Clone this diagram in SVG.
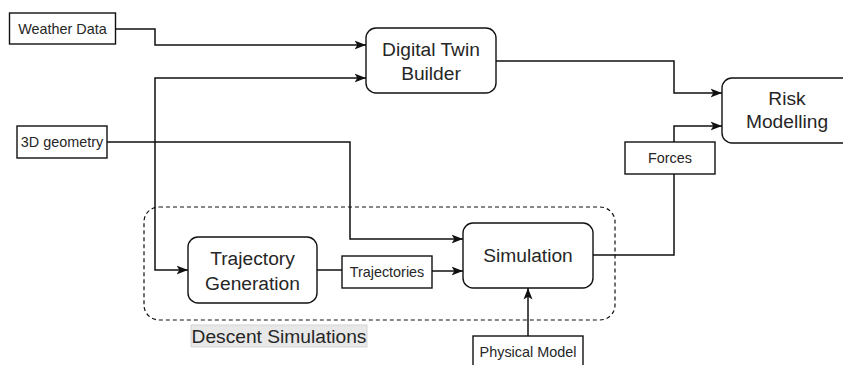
<svg xmlns="http://www.w3.org/2000/svg" width="843" height="365" viewBox="0 0 843 365">
  <style>
    .box { fill: #ffffff; stroke: #111111; stroke-width: 1.4; }
    .edge { fill: none; stroke: #111111; stroke-width: 1.5; }
    .small { font-family: "Liberation Sans", Arial, sans-serif; font-size: 14.4px; fill: #262626; text-anchor: middle; }
    .big { font-family: "Liberation Sans", Arial, sans-serif; font-size: 19.2px; fill: #262626; text-anchor: middle; }
  </style>
  <defs>
    <marker id="arrow" markerUnits="userSpaceOnUse" markerWidth="13" markerHeight="11" refX="11.5" refY="5.5" orient="auto">
      <path d="M0,1 L11.5,5.5 L0,10 L2.8,5.5 Z" fill="#111111"/>
    </marker>
  </defs>

  <rect width="843" height="365" fill="#ffffff"/>

  <!-- group frame -->
  <g id="descent-simulations">
    <rect x="144" y="207" width="471" height="113" rx="15" ry="15" fill="none" stroke="#111111" stroke-width="1.2" stroke-dasharray="4 3"/>
    <rect x="191" y="325" width="176" height="22" fill="#e8e8e8" stroke="#cccccc" stroke-width="0.8"/>
    <text class="big" x="279" y="343">Descent Simulations</text>
  </g>

  <!-- connectors -->
  <g id="connectors">
    <path class="edge" d="M115.5,29 H155 V45 H366" marker-end="url(#arrow)"/>
    <path class="edge" d="M155,142 V78 H366" marker-end="url(#arrow)"/>
    <path class="edge" d="M155,142 V270 H188" marker-end="url(#arrow)"/>
    <path class="edge" d="M107,142 H350 V239 H463" marker-end="url(#arrow)"/>
    <path class="edge" d="M317,270 H342"/>
    <path class="edge" d="M432,271 H463" marker-end="url(#arrow)"/>
    <path class="edge" d="M593,255 H674 V174"/>
    <path class="edge" d="M674,142 V126 H722" marker-end="url(#arrow)"/>
    <path class="edge" d="M496,61 H674 V93 H722" marker-end="url(#arrow)"/>
    <path class="edge" d="M528,336 V288" marker-end="url(#arrow)"/>
  </g>

  <g id="weather-data">
    <rect class="box" x="9.5" y="13" width="106" height="31"/>
    <text class="small" x="62.5" y="33.5">Weather Data</text>
  </g>

  <g id="geometry-3d">
    <rect class="box" x="17" y="126" width="90" height="32"/>
    <text class="small" x="62" y="147">3D geometry</text>
  </g>

  <g id="digital-twin-builder">
    <rect class="box" x="366" y="28" width="130" height="65" rx="10" ry="10"/>
    <text class="big" x="431" y="56">Digital Twin</text>
    <text class="big" x="431" y="80">Builder</text>
  </g>

  <g id="risk-modelling">
    <rect class="box" x="722" y="78" width="130" height="65" rx="10" ry="10"/>
    <text class="big" x="787" y="104.5">Risk</text>
    <text class="big" x="787" y="128">Modelling</text>
  </g>

  <g id="forces">
    <rect class="box" x="625" y="142" width="90" height="32"/>
    <text class="small" x="670" y="163">Forces</text>
  </g>

  <g id="trajectory-generation">
    <rect class="box" x="188" y="237" width="129" height="66" rx="10" ry="10"/>
    <text class="big" x="252.5" y="265">Trajectory</text>
    <text class="big" x="252.5" y="289.5">Generation</text>
  </g>

  <g id="trajectories">
    <rect class="box" x="342" y="256" width="90" height="32"/>
    <text class="small" x="387" y="277">Trajectories</text>
  </g>

  <g id="simulation">
    <rect class="box" x="463" y="223" width="130" height="65" rx="10" ry="10"/>
    <text class="big" x="528" y="262">Simulation</text>
  </g>

  <g id="physical-model">
    <rect class="box" x="473" y="336" width="110" height="40"/>
    <text class="small" x="528" y="357">Physical Model</text>
  </g>
</svg>
